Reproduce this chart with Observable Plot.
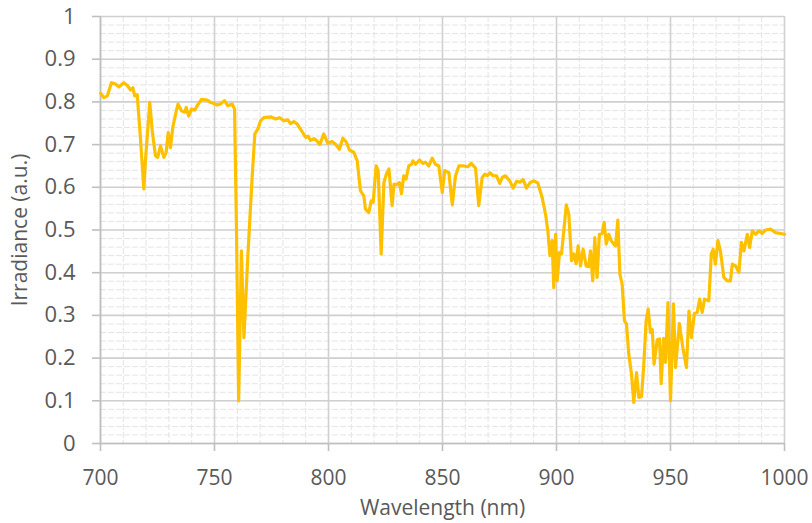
<!DOCTYPE html>
<html>
<head>
<meta charset="utf-8">
<script src="https://cdn.jsdelivr.net/npm/d3@7"></script>
<script src="https://cdn.jsdelivr.net/npm/@observablehq/plot@0.6"></script>
<style>
  html, body { margin: 0; padding: 0; background: #ffffff; }
  #chart { width: 812px; height: 523px; }
</style>
</head>
<body>
<div id="chart"></div>
<script>
// Solar irradiance spectrum, 700–1000 nm
const wavelength = [
  700, 701.5, 703, 704.8, 706.6, 708, 710.2, 711.7, 713.2, 714.2, 715, 716.1,
  717.5, 719, 719.7, 721.6, 722.7, 724.1, 725.1, 726.3, 727.8, 728.8, 729.7,
  730.7, 731.7, 732.9, 734, 735.5, 737, 737.6, 738.7, 739.9, 741.4, 742.4,
  744.3, 746.8, 748.2, 749.7, 751.2, 752.6, 754.4, 755.8, 757.8, 758.8, 759.6,
  760.6, 761.8, 762.9, 764.6, 766.5, 767.7, 769, 770.2, 771.6, 774.6, 776.8,
  778.6, 780.4, 782.2, 783.3, 784.8, 786.3, 788, 790, 791, 792.1, 793.6, 794.7,
  796.2, 797.9, 799.7, 801.6, 803.1, 804.8, 806.3, 807.8, 809.2, 811.1, 812.6,
  814, 815.5, 816.2, 817.7, 818.7, 819.6, 820.9, 821.8, 823.1, 824.3, 825.4,
  826.5, 827.9, 828.7, 830.1, 831.1, 832, 833, 834, 835.2, 836.4, 837, 838.2,
  839.9, 841.4, 842.5, 844, 845.5, 846.9, 848.4, 849.9, 851, 852.8, 854.3,
  855.7, 857.2, 859.4, 861.1, 862.6, 864.5, 865.9, 867.4, 868.6, 869.6, 870.8,
  872.2, 873.7, 875.1, 876.2, 877.6, 879.5, 881, 882.5, 883.9, 885.4, 886.8,
  888.6, 890, 891.8, 893.7, 895.2, 896.2, 897.1, 898.1, 898.8, 899.6, 900.3,
  901.3, 902.2, 903.2, 904.3, 905.4, 906.6, 907.6, 908.6, 909.5, 910.5, 911.7,
  913, 914.1, 914.9, 915.9, 916.8, 917.8, 918.8, 920, 920.9, 921.8, 922.9, 924,
  925.1, 925.9, 926.9, 927.8, 928.8, 929.8, 930.7, 931.7, 932.9, 933.9, 935.1,
  936.1, 937.3, 938.3, 939.3, 940.2, 941.2, 942, 942.8, 944.2, 945.2, 945.9,
  947, 947.8, 948.9, 950, 951.3, 952.2, 953.9, 955.4, 957, 958.1, 959.2, 960.5,
  961.7, 962.8, 963.9, 964.9, 966.8, 967.9, 968.7, 969.7, 970.8, 971.9, 973.4,
  974.9, 976.3, 977.1, 978.5, 980, 981.1, 982.2, 983.7, 984.7, 985.9, 987.3,
  988.8, 990.2, 991.7, 993.9, 996.1, 1000
];
const irradiance = [
  0.820, 0.810, 0.814, 0.845, 0.842, 0.835, 0.845, 0.839, 0.828, 0.833, 0.814, 0.817,
  0.717, 0.596, 0.662, 0.799, 0.732, 0.674, 0.670, 0.697, 0.670, 0.682, 0.728,
  0.693, 0.740, 0.771, 0.795, 0.779, 0.776, 0.787, 0.767, 0.783, 0.781, 0.791,
  0.806, 0.804, 0.799, 0.796, 0.793, 0.795, 0.803, 0.791, 0.795, 0.783, 0.514,
  0.100, 0.451, 0.248, 0.436, 0.623, 0.725, 0.736, 0.756, 0.763, 0.765, 0.760,
  0.763, 0.756, 0.758, 0.749, 0.754, 0.748, 0.734, 0.717, 0.720, 0.710, 0.714, 0.710,
  0.700, 0.725, 0.703, 0.707, 0.701, 0.689, 0.715, 0.706, 0.687, 0.682, 0.662,
  0.592, 0.580, 0.549, 0.541, 0.568, 0.565, 0.650, 0.639, 0.444, 0.611, 0.631,
  0.643, 0.557, 0.607, 0.607, 0.611, 0.585, 0.627, 0.619, 0.650, 0.654, 0.662, 0.654,
  0.664, 0.656, 0.659, 0.650, 0.668, 0.654, 0.650, 0.588, 0.639, 0.634, 0.559,
  0.627, 0.650, 0.650, 0.648, 0.656, 0.645, 0.557, 0.623, 0.631, 0.627, 0.634,
  0.627, 0.627, 0.609, 0.623, 0.627, 0.615, 0.598, 0.614, 0.612, 0.618, 0.598,
  0.612, 0.615, 0.610, 0.576, 0.537, 0.498, 0.440, 0.475, 0.365, 0.490, 0.381,
  0.447, 0.444, 0.498, 0.559, 0.537, 0.428, 0.444, 0.421, 0.463, 0.416, 0.455,
  0.416, 0.414, 0.451, 0.381, 0.482, 0.389, 0.490, 0.492, 0.518, 0.467, 0.490, 0.475,
  0.467, 0.463, 0.523, 0.397, 0.373, 0.287, 0.280, 0.209, 0.162, 0.096, 0.166,
  0.108, 0.110, 0.186, 0.287, 0.315, 0.260, 0.267, 0.186, 0.243, 0.245, 0.140,
  0.246, 0.190, 0.330, 0.100, 0.327, 0.178, 0.281, 0.225, 0.178, 0.310, 0.248, 0.305,
  0.307, 0.338, 0.307, 0.338, 0.334, 0.444, 0.455, 0.420, 0.475, 0.451, 0.389,
  0.381, 0.381, 0.420, 0.416, 0.401, 0.471, 0.451, 0.490, 0.459, 0.498, 0.490,
  0.498, 0.492, 0.500, 0.502, 0.494, 0.490
];

// Axis ticks and their labels
const xTicks = [700, 750, 800, 850, 900, 950, 1000];
const xTickLabels = ["700", "750", "800", "850", "900", "950", "1000"];
const yTicks = [0, 0.1, 0.2, 0.3, 0.4, 0.5, 0.6, 0.7, 0.8, 0.9, 1];
const yTickLabels = ["0", "0.1", "0.2", "0.3", "0.4", "0.5", "0.6", "0.7", "0.8", "0.9", "1"];
const xTitle = "Wavelength (nm)";
const yTitle = "Irradiance (a.u.)";

const spectrum = wavelength.map((w, i) => ({wavelength: w, irradiance: irradiance[i]}));

// Minor grid: every 10 nm and every 0.02
const minorX = d3.range(700, 1001, 10);
const minorY = d3.range(0, 51).map(i => i / 50);

const chart = Plot.plot({
  width: 812,
  height: 523,
  marginLeft: 100,
  marginRight: 28,
  marginTop: 16,
  marginBottom: 80,
  style: {fontFamily: "'Open Sans', 'Noto Sans', sans-serif", fontSize: "21px", color: "#595959", background: "#ffffff"},
  x: {domain: [700, 1000]},
  y: {domain: [0, 1]},
  marks: [
    Plot.gridX({ticks: minorX, stroke: "#e4e4e4", strokeOpacity: 1, strokeWidth: 1, strokeDasharray: "6,2"}),
    Plot.gridY({ticks: minorY, stroke: "#e4e4e4", strokeOpacity: 1, strokeWidth: 1, strokeDasharray: "6,2"}),
    Plot.gridX({ticks: xTicks, stroke: "#d0d0d0", strokeOpacity: 1, strokeWidth: 1.6}),
    Plot.gridY({ticks: yTicks, stroke: "#d0d0d0", strokeOpacity: 1, strokeWidth: 1.6}),
    Plot.ruleY([0], {stroke: "#bfbfbf", strokeWidth: 1.6}),
    Plot.ruleX([700], {stroke: "#bfbfbf", strokeWidth: 1.6}),
    Plot.axisX({
      ticks: xTicks, tickSize: 8, tickPadding: 19, label: null,
      stroke: "#bfbfbf", strokeWidth: 1.6,
      tickFormat: d => xTickLabels[xTicks.indexOf(d)]
    }),
    Plot.axisY({
      ticks: yTicks, tickSize: 8, tickPadding: 17, label: null,
      stroke: "#bfbfbf", strokeWidth: 1.6, fontSize: 22,
      tickFormat: d => yTickLabels[yTicks.indexOf(d)]
    }),
    Plot.line(spectrum, {
      x: "wavelength", y: "irradiance",
      stroke: "#ffc000", strokeWidth: 3.2, strokeLinejoin: "round", strokeLinecap: "round"
    }),
    Plot.text([xTitle], {frameAnchor: "bottom", lineAnchor: "middle", textAnchor: "middle", dy: 65, fill: "#595959", fontSize: 21}),
    Plot.text([yTitle], {frameAnchor: "left", lineAnchor: "middle", textAnchor: "middle", dx: -80, rotate: -90, fill: "#595959", fontSize: 21})
  ]
});

document.getElementById("chart").appendChild(chart);
</script>
</body>
</html>
